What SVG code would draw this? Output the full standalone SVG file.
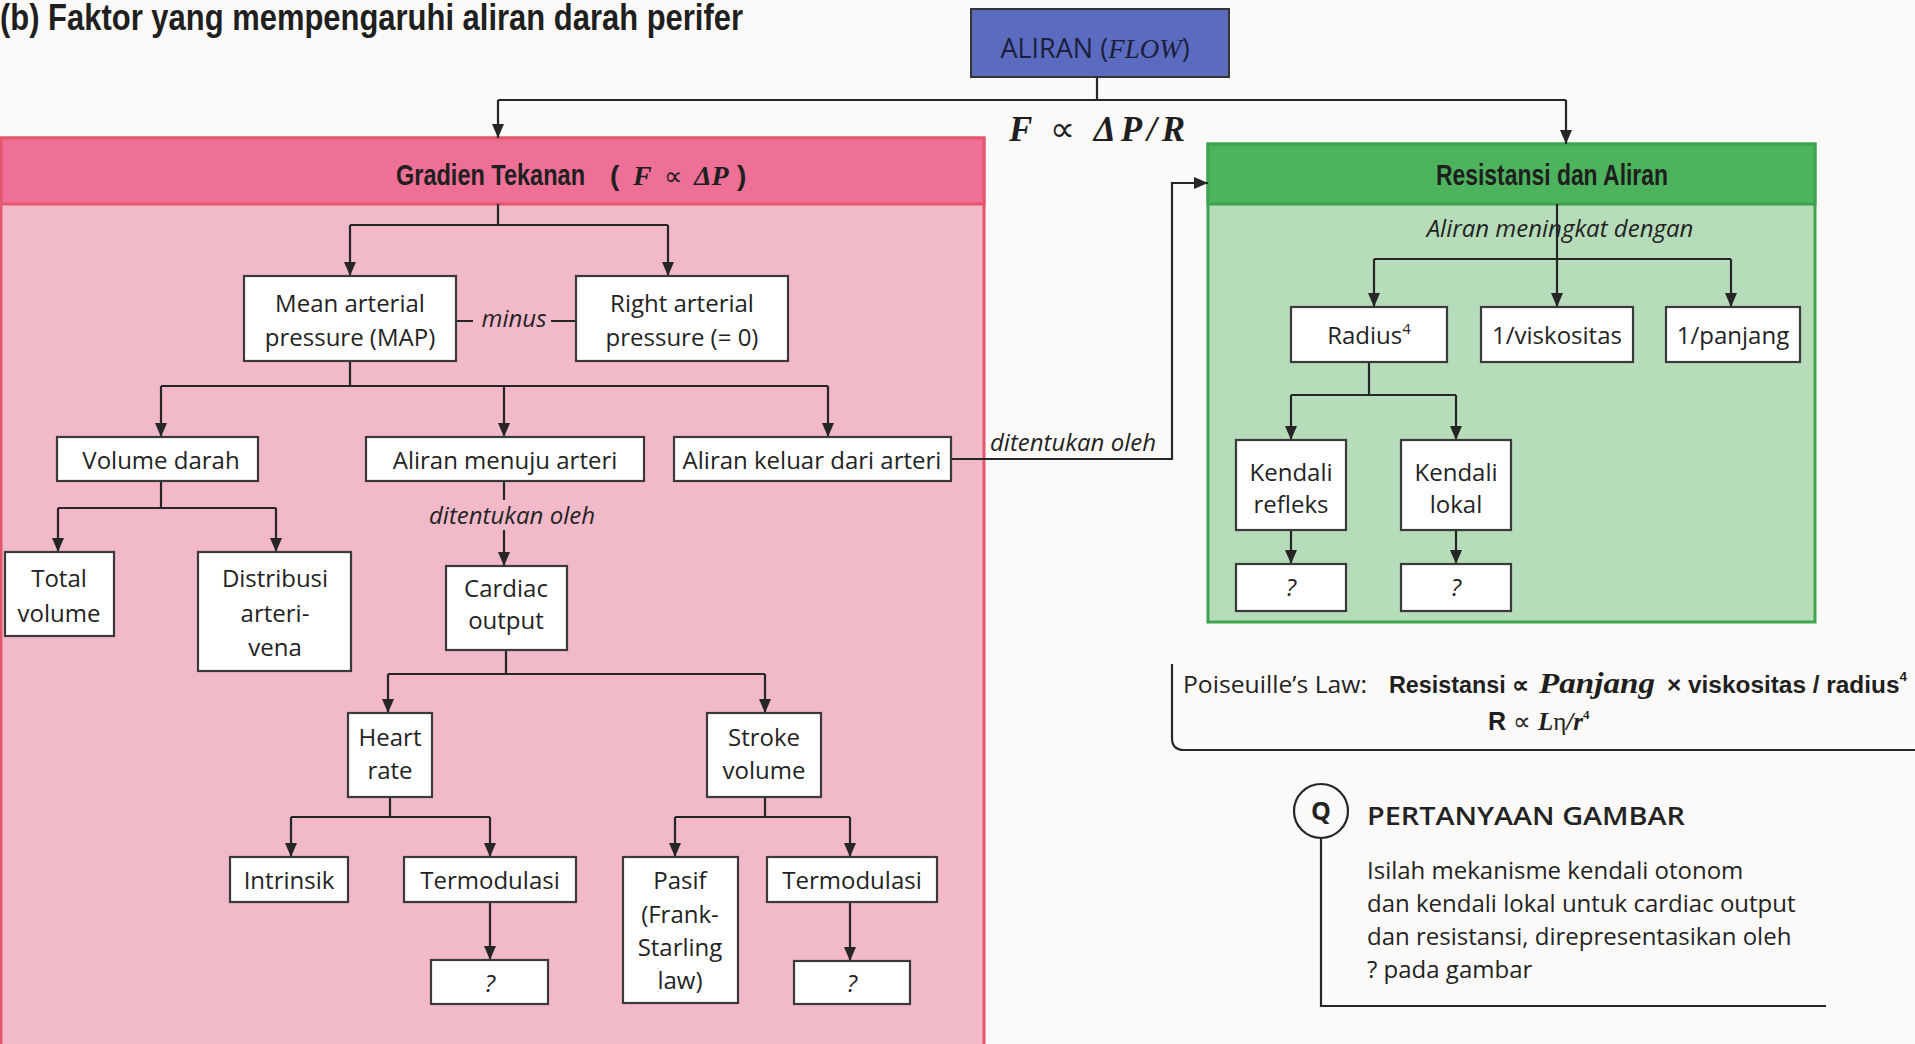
<svg xmlns="http://www.w3.org/2000/svg" width="1915" height="1044" viewBox="0 0 1915 1044">
<defs>
<marker id="ah" markerUnits="userSpaceOnUse" markerWidth="14" markerHeight="12" refX="14" refY="6" orient="auto">
<path d="M0,0 L14,6 L0,12 z" fill="#262626"/>
</marker>
<style>
.bg{fill:#fbfaf8}
.box{fill:#ffffff;stroke:#3a3a3a;stroke-width:2.2}
.t{font-family:"Open Sans","Liberation Sans",sans-serif;font-size:24px;fill:#232323;text-anchor:middle}
.ti{font-family:"Open Sans","Liberation Sans",sans-serif;font-size:24px;fill:#232323;font-style:italic}
.tl{font-family:"Open Sans","Liberation Sans",sans-serif;font-size:24px;fill:#232323}
.hd{font-family:"Liberation Sans",sans-serif;font-weight:bold;fill:#1f1f1f}
.mth{font-family:"Liberation Serif",serif;font-weight:bold;font-style:italic;fill:#1f1f1f}
.ln{fill:none;stroke:#262626;stroke-width:2.2}
.ar{fill:none;stroke:#262626;stroke-width:2.2;marker-end:url(#ah)}
</style>
</defs>
<rect class="bg" x="0" y="0" width="1915" height="1044"/>

<text id="title" transform="translate(0,30) scale(1,1.32)" x="0" y="0" font-family="Liberation Sans, sans-serif" font-weight="bold" font-size="28" fill="#1f1f1f" textLength="743" lengthAdjust="spacingAndGlyphs">(b) Faktor yang mempengaruhi aliran darah perifer</text>

<!-- Panels -->
<g id="panel-gradien">
<rect x="1" y="138" width="983" height="910" fill="#f2b9c9" stroke="#e4566c" stroke-width="3"/>
<rect x="1" y="138" width="983" height="66" fill="#ee7096" stroke="#e4566c" stroke-width="3"/>
<text class="hd" transform="translate(396,185) scale(1,1.3)" x="0" y="0" font-size="23.3" textLength="189" lengthAdjust="spacingAndGlyphs">Gradien Tekanan</text>
<text class="hd" x="610" y="185" font-size="28">(</text>
<text class="mth" x="633" y="185" font-size="28">F</text>
<text x="664" y="185" font-family="Liberation Serif, serif" font-size="26" fill="#1f1f1f">∝</text>
<text class="mth" x="694" y="185" font-size="28">ΔP</text>
<text class="hd" x="737" y="185" font-size="28">)</text>
</g>
<g id="panel-resistansi">
<rect x="1208" y="144" width="607" height="478" fill="#b6dcb9" stroke="#3fa24f" stroke-width="3"/>
<rect x="1208" y="144" width="607" height="60" fill="#4db35c" stroke="#3fa24f" stroke-width="3"/>
<text class="hd" transform="translate(1436,185) scale(1,1.3)" x="0" y="0" font-size="22.8" textLength="232" lengthAdjust="spacingAndGlyphs">Resistansi dan Aliran</text>
</g>

<!-- Connectors -->
<g id="connectors">
<path class="ln" d="M1097,77 V100 M498,100 H1566"/>
<path class="ar" d="M498,100 V138"/>
<path class="ar" d="M1566,100 V144"/>

<path class="ln" d="M498,204 V225 M350,225 H668"/>
<path class="ar" d="M350,225 V276"/>
<path class="ar" d="M668,225 V276"/>
<path class="ln" d="M456,321 H473 M551,321 H576"/>
<path class="ln" d="M350,361 V386 M161,386 H828"/>
<path class="ar" d="M161,386 V437"/>
<path class="ar" d="M504,386 V437"/>
<path class="ar" d="M828,386 V437"/>
<path class="ln" d="M161,481 V508 M58,508 H276"/>
<path class="ar" d="M58,508 V552"/>
<path class="ar" d="M276,508 V552"/>
<path class="ln" d="M504,481 V500"/>
<path class="ar" d="M504,530 V566"/>
<path class="ln" d="M506,650 V674 M388,674 H765"/>
<path class="ar" d="M388,674 V713"/>
<path class="ar" d="M765,674 V713"/>
<path class="ln" d="M390,797 V817 M291,817 H490"/>
<path class="ar" d="M291,817 V857"/>
<path class="ar" d="M490,817 V857"/>
<path class="ar" d="M490,902 V960"/>
<path class="ln" d="M765,797 V817 M675,817 H850"/>
<path class="ar" d="M675,817 V857"/>
<path class="ar" d="M850,817 V857"/>
<path class="ar" d="M850,902 V961"/>
<path class="ar" d="M951,459 H1172 V183 H1208"/>

<path class="ln" d="M1557,204 V259 M1374,259 H1731"/>
<path class="ar" d="M1374,259 V307"/>
<path class="ar" d="M1557,259 V307"/>
<path class="ar" d="M1731,259 V307"/>
<path class="ln" d="M1369,362 V395 M1291,395 H1456"/>
<path class="ar" d="M1291,395 V440"/>
<path class="ar" d="M1456,395 V440"/>
<path class="ar" d="M1291,530 V564"/>
<path class="ar" d="M1456,530 V564"/>
</g>

<!-- Connector labels -->
<text x="1009" y="141" font-family="Liberation Serif, serif" font-weight="bold" font-style="italic" font-size="35" fill="#1f1f1f" textLength="176" lengthAdjust="spacing">F <tspan font-style="normal" font-weight="normal">∝</tspan> ΔP/R</text>
<text class="ti" x="514" y="327" text-anchor="middle">minus</text>
<text class="ti" x="512" y="524" text-anchor="middle">ditentukan oleh</text>
<text class="ti" x="1073" y="451" text-anchor="middle">ditentukan oleh</text>
<text class="ti" x="1560" y="237" text-anchor="middle">Aliran meningkat dengan</text>

<!-- Nodes -->
<g id="n-aliran">
<rect x="971" y="9" width="258" height="68" fill="#5b6bc0" stroke="#333" stroke-width="2"/>
<text class="t" x="1095" y="58" style="font-size:27px;fill:#1e1e3a">ALIRAN (<tspan font-family="Liberation Serif, serif" font-style="italic">FLOW</tspan>)</text>
</g>
<g id="n-map">
<rect class="box" x="244" y="276" width="212" height="85"/>
<text class="t" x="350" y="312">Mean arterial</text>
<text class="t" x="350" y="346">pressure (MAP)</text>
</g>
<g id="n-rap">
<rect class="box" x="576" y="276" width="212" height="85"/>
<text class="t" x="682" y="312">Right arterial</text>
<text class="t" x="682" y="346">pressure (= 0)</text>
</g>
<g id="n-volume">
<rect class="box" x="57" y="437" width="201" height="44"/>
<text class="t" x="161" y="469">Volume darah</text>
</g>
<g id="n-menuju">
<rect class="box" x="366" y="437" width="278" height="44"/>
<text class="t" x="505" y="469">Aliran menuju arteri</text>
</g>
<g id="n-keluar">
<rect class="box" x="674" y="437" width="277" height="44"/>
<text class="t" x="812" y="469">Aliran keluar dari arteri</text>
</g>
<g id="n-total">
<rect class="box" x="5" y="552" width="109" height="84"/>
<text class="t" x="59" y="587">Total</text>
<text class="t" x="59" y="622">volume</text>
</g>
<g id="n-distribusi">
<rect class="box" x="198" y="552" width="153" height="119"/>
<text class="t" x="275" y="587">Distribusi</text>
<text class="t" x="275" y="622">arteri-</text>
<text class="t" x="275" y="656">vena</text>
</g>
<g id="n-cardiac">
<rect class="box" x="446" y="566" width="121" height="84"/>
<text class="t" x="506" y="597">Cardiac</text>
<text class="t" x="506" y="629">output</text>
</g>
<g id="n-heart">
<rect class="box" x="348" y="713" width="84" height="84"/>
<text class="t" x="390" y="746">Heart</text>
<text class="t" x="390" y="779">rate</text>
</g>
<g id="n-stroke">
<rect class="box" x="707" y="713" width="114" height="84"/>
<text class="t" x="764" y="746">Stroke</text>
<text class="t" x="764" y="779">volume</text>
</g>
<g id="n-intrinsik">
<rect class="box" x="230" y="857" width="118" height="45"/>
<text class="t" x="289" y="889">Intrinsik</text>
</g>
<g id="n-termod1">
<rect class="box" x="404" y="857" width="172" height="45"/>
<text class="t" x="490" y="889">Termodulasi</text>
</g>
<g id="n-q1">
<rect class="box" x="431" y="960" width="117" height="44"/>
<text class="t" x="490" y="992" font-style="italic">?</text>
</g>
<g id="n-pasif">
<rect class="box" x="623" y="857" width="115" height="146"/>
<text class="t" x="680" y="889">Pasif</text>
<text class="t" x="680" y="923">(Frank-</text>
<text class="t" x="680" y="956">Starling</text>
<text class="t" x="680" y="989">law)</text>
</g>
<g id="n-termod2">
<rect class="box" x="767" y="857" width="170" height="45"/>
<text class="t" x="852" y="889">Termodulasi</text>
</g>
<g id="n-q2">
<rect class="box" x="794" y="961" width="116" height="43"/>
<text class="t" x="852" y="992" font-style="italic">?</text>
</g>

<g id="n-radius">
<rect class="box" x="1291" y="307" width="156" height="55"/>
<text class="t" x="1369" y="344">Radius<tspan style="font-size:15px" dy="-10">4</tspan></text>
</g>
<g id="n-visk">
<rect class="box" x="1481" y="307" width="152" height="55"/>
<text class="t" x="1557" y="344">1/viskositas</text>
</g>
<g id="n-panjang">
<rect class="box" x="1666" y="307" width="134" height="55"/>
<text class="t" x="1733" y="344">1/panjang</text>
</g>
<g id="n-refleks">
<rect class="box" x="1236" y="440" width="110" height="90"/>
<text class="t" x="1291" y="481">Kendali</text>
<text class="t" x="1291" y="513">refleks</text>
</g>
<g id="n-lokal">
<rect class="box" x="1401" y="440" width="110" height="90"/>
<text class="t" x="1456" y="481">Kendali</text>
<text class="t" x="1456" y="513">lokal</text>
</g>
<g id="n-q3">
<rect class="box" x="1236" y="564" width="110" height="47"/>
<text class="t" x="1291" y="596" font-style="italic">?</text>
</g>
<g id="n-q4">
<rect class="box" x="1401" y="564" width="110" height="47"/>
<text class="t" x="1456" y="596" font-style="italic">?</text>
</g>

<!-- Poiseuille -->
<g id="poiseuille">
<path class="ln" d="M1172,664 V738 Q1172,750 1184,750 H1915"/>
<text class="tl" x="1183" y="693" textLength="184" lengthAdjust="spacingAndGlyphs">Poiseuille’s Law:</text>
<text class="hd" x="1389" y="693" font-size="23.5" textLength="140" lengthAdjust="spacingAndGlyphs">Resistansi ∝</text>
<text class="mth" x="1539" y="693" font-size="29" textLength="116" lengthAdjust="spacingAndGlyphs">Panjang</text>
<text class="hd" x="1667" y="693" font-size="23.5" textLength="240" lengthAdjust="spacingAndGlyphs">× viskositas / radius<tspan font-size="13" dy="-12">4</tspan></text>
<text class="hd" x="1488" y="730" font-size="25">R <tspan font-weight="normal">∝</tspan> <tspan class="mth">L</tspan><tspan font-family="Liberation Serif, serif" font-weight="normal">η</tspan><tspan class="mth">/r</tspan><tspan font-size="13" dy="-11" font-family="Liberation Serif, serif">4</tspan></text>
</g>

<!-- Question -->
<g id="question">
<circle cx="1321" cy="811" r="27" fill="none" stroke="#262626" stroke-width="2.2"/>
<text class="t" x="1321" y="820" style="font-weight:bold;font-size:25px">Q</text>
<path class="ln" d="M1321,838 V1006 H1826"/>
<text class="tl" x="1367" y="825" style="font-weight:600;font-size:25px" textLength="318" lengthAdjust="spacingAndGlyphs">PERTANYAAN GAMBAR</text>
<text class="tl" x="1367" y="879">Isilah mekanisme kendali otonom</text>
<text class="tl" x="1367" y="912">dan kendali lokal untuk cardiac output</text>
<text class="tl" x="1367" y="945">dan resistansi, direpresentasikan oleh</text>
<text class="tl" x="1367" y="978">? pada gambar</text>
</g>
</svg>
